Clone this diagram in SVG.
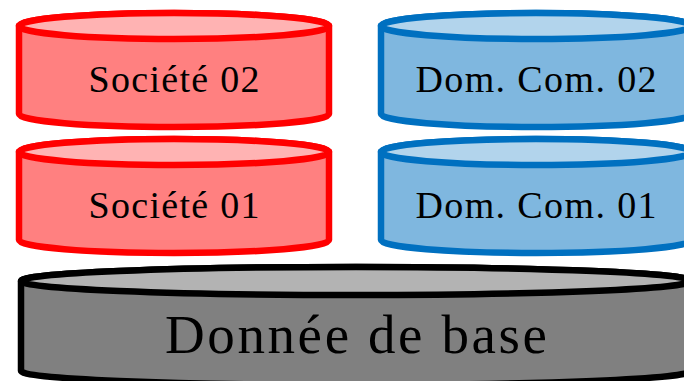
<svg xmlns="http://www.w3.org/2000/svg" width="684" height="381" viewBox="0 0 684 381">
<style>
.s{stroke-width:6.5;stroke-linejoin:round}
.red{stroke:#ff0000}
.blue{stroke:#0070c0}
.gray{stroke:#000000}
.redside{fill:#ff8080}
.redtop{fill:#ffb3b3}
.blueside{fill:#7fb7df}
.bluetop{fill:#b2d4ec}
.grayside{fill:#808080}
.graytop{fill:#b3b3b3}
text{font-family:"Liberation Serif","Times New Roman",serif;fill:#000;text-anchor:middle}
.t{font-size:38px}
.tb{font-size:55px}
</style>
<rect width="684" height="381" fill="#ffffff"/>
<g id="societe02">
<path class="s red redside" d="M19,26 L19,114 A155,13 0 0 0 329,114 L329,26 A155,13 0 0 0 19,26 Z"/>
<ellipse class="s red redtop" cx="174" cy="26" rx="155" ry="13"/>
<text class="t" x="174" y="92" textLength="171" lengthAdjust="spacing">Société 02</text>
</g>
<g id="societe01">
<path class="s red redside" d="M19,152 L19,240 A155,13 0 0 0 329,240 L329,152 A155,13 0 0 0 19,152 Z"/>
<ellipse class="s red redtop" cx="174" cy="152" rx="155" ry="13"/>
<text class="t" x="174" y="218" textLength="171" lengthAdjust="spacing">Société 01</text>
</g>
<g id="domcom02">
<path class="s blue blueside" d="M381,26 L381,114 A155,13 0 0 0 691,114 L691,26 A155,13 0 0 0 381,26 Z"/>
<ellipse class="s blue bluetop" cx="536" cy="26" rx="155" ry="13"/>
<text class="t" x="536" y="92" textLength="241" lengthAdjust="spacing">Dom. Com. 02</text>
</g>
<g id="domcom01">
<path class="s blue blueside" d="M381,152 L381,240 A155,13 0 0 0 691,240 L691,152 A155,13 0 0 0 381,152 Z"/>
<ellipse class="s blue bluetop" cx="536" cy="152" rx="155" ry="13"/>
<text class="t" x="536" y="218" textLength="241" lengthAdjust="spacing">Dom. Com. 01</text>
</g>
<g id="donneebase">
<path class="s gray grayside" d="M21,281 L21,371 A335,14 0 0 0 691,371 L691,281 A335,14 0 0 0 21,281 Z"/>
<ellipse class="s gray graytop" cx="356" cy="281" rx="335" ry="14"/>
<text class="tb" x="356" y="353" textLength="382" lengthAdjust="spacing">Donnée de base</text>
</g>
</svg>
